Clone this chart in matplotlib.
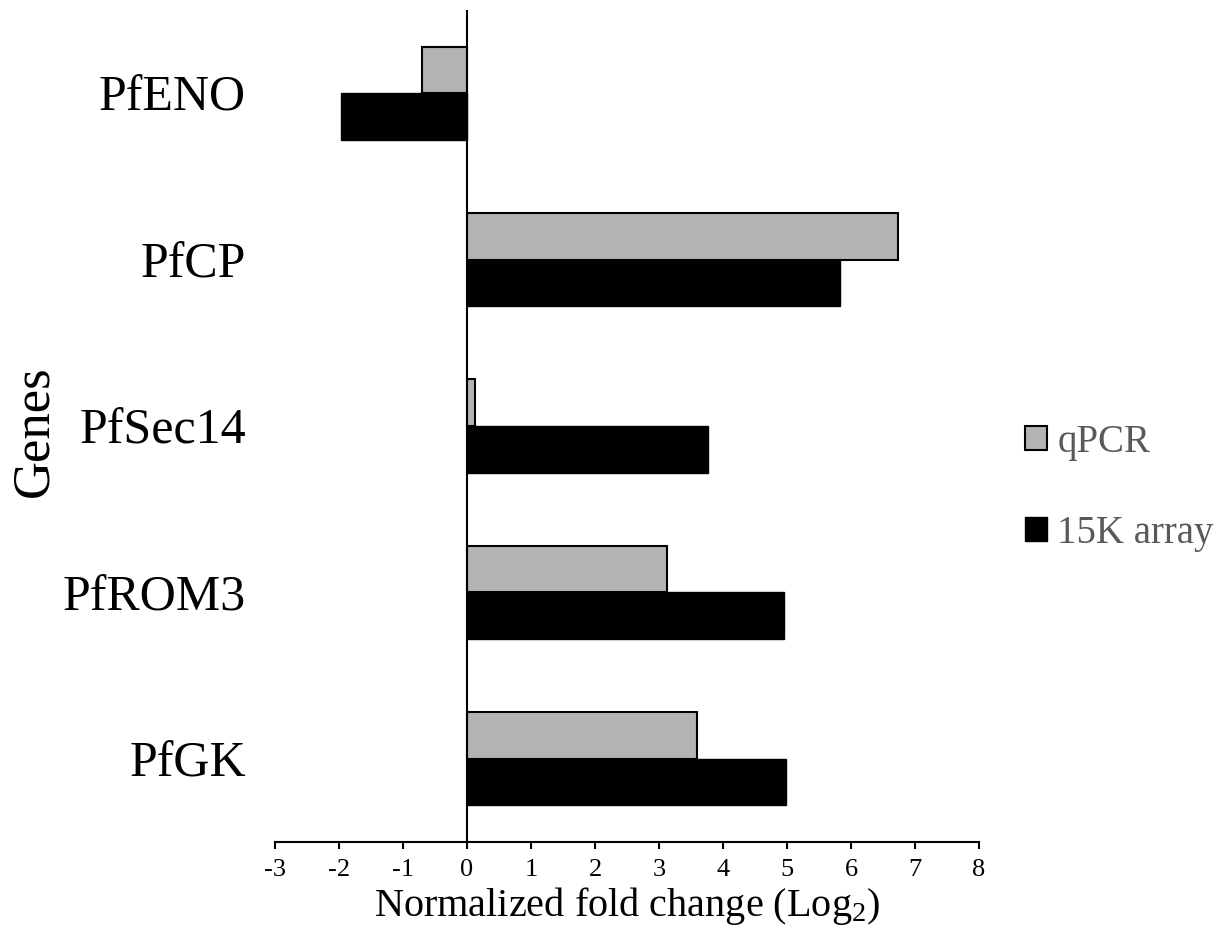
import numpy as np
import matplotlib
matplotlib.use('Agg')
import matplotlib.pyplot as plt
from matplotlib.patches import Patch

plt.rcParams['font.family'] = ['Liberation Serif', 'DejaVu Serif']
plt.rcParams['mathtext.default'] = 'regular'

genes = ['PfENO', 'PfCP', 'PfSec14', 'PfROM3', 'PfGK']
qpcr = [-0.70, 6.74, 0.13, 3.12, 3.59]
array_15k = [-1.97, 5.83, 3.76, 4.96, 4.99]
xticks = list(range(-3, 9))

fig = plt.figure(figsize=(12.29, 9.42), dpi=100)
ax = fig.add_axes([0.2238, 0.1062, 0.5728, 0.8832])

y = np.arange(len(genes))
h = 0.28
ax.barh(y - h / 2, qpcr, height=h, color='#b3b3b3', edgecolor='black', linewidth=1.5, label='qPCR')
ax.barh(y + h / 2, array_15k, height=h, color='black', edgecolor='black', linewidth=1.0, label='15K array')

ax.set_xlim(-3, 8)
ax.set_ylim(len(genes) - 0.5, -0.5)
ax.axvline(0, color='black', linewidth=1.5, zorder=3)

for s in ['left', 'right', 'top']:
    ax.spines[s].set_visible(False)
ax.spines['bottom'].set_linewidth(1.5)

ax.set_xticks(xticks)
ax.set_xticklabels([str(t) for t in xticks], fontsize=19)
ax.tick_params(axis='x', direction='out', length=5, width=1.5, pad=7)
ax.set_yticks(y)
ax.set_yticklabels(genes, fontsize=36)
ax.tick_params(axis='y', length=0, pad=21)

ax.set_xlabel('Normalized fold change (Log$_2$)', fontsize=29, labelpad=3)
fig.text(0.028, 0.5425, 'Genes', rotation=90, fontsize=38, ha='center', va='center')

handles = [Patch(facecolor='#b3b3b3', edgecolor='black', linewidth=1.5),
           Patch(facecolor='black', edgecolor='black')]
leg = fig.legend(handles, ['qPCR', '15K array'], loc='center left',
                 bbox_to_anchor=(0.8055, 0.482), frameon=False, fontsize=28,
                 handlelength=0.57, handleheight=0.57, handletextpad=0.26,
                 labelspacing=1.38)
for t in leg.get_texts():
    t.set_color('#595959')

fig.savefig('out.png', dpi=100)
